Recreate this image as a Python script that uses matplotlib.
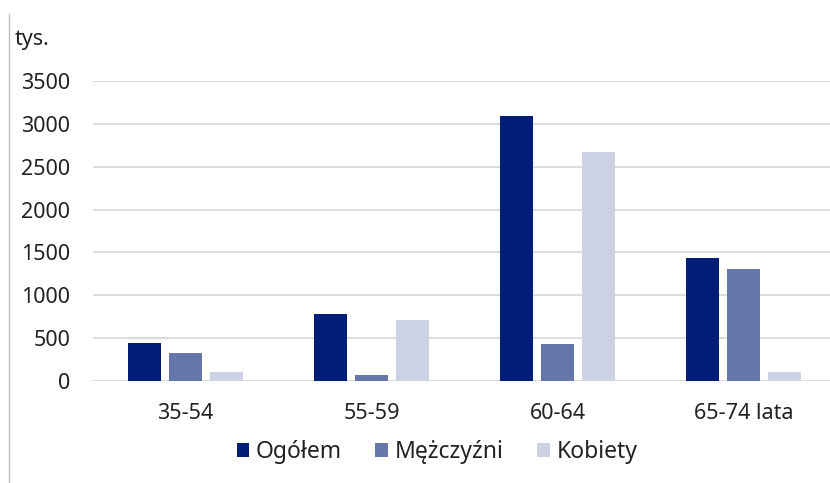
import matplotlib
matplotlib.use("Agg")
import matplotlib.pyplot as plt
from matplotlib.lines import Line2D
import numpy as np

plt.rcParams['font.family'] = ['Noto Sans', 'DejaVu Sans']

categories = ["35-54", "55-59", "60-64", "65-74 lata"]
series_names = ["Ogółem", "Mężczyźni", "Kobiety"]
ogolem = [440, 782, 3092, 1435]
mezczyzni = [323, 70, 428, 1307]
kobiety = [108, 712, 2668, 108]
yticks = [0, 500, 1000, 1500, 2000, 2500, 3000, 3500]
unit_label = "tys."

colors = ["#001E78", "#6676AA", "#CCD2E4"]
text_color = "#222222"

W, H = 830, 483
fig = plt.figure(figsize=(W / 100, H / 100), dpi=100)
ax = fig.add_axes([92.5 / W, 1 - 381 / H, 744 / W, 300 / H])

x = np.arange(len(categories))
bw = 0.174
step = 0.22
for i, (vals, name, c) in enumerate(zip([ogolem, mezczyzni, kobiety], series_names, colors)):
    ax.bar(x + (i - 1) * step, vals, width=bw, color=c, label=name, zorder=3)

ax.set_xlim(-0.5, len(categories) - 0.5)
ax.set_ylim(0, 3500)
ax.set_yticks(yticks)
ax.set_yticklabels([str(v) for v in yticks])
ax.set_xticks(x)
ax.set_xticklabels(categories)
ax.grid(axis='y', color='#D9D9D9', linewidth=1.3, zorder=0)
ax.set_axisbelow(True)
for s in ax.spines.values():
    s.set_visible(False)
ax.tick_params(axis='both', length=0, labelsize=15.5, colors=text_color)
ax.tick_params(axis='y', pad=16)
ax.tick_params(axis='x', pad=16)

fig.text(15 / W, 1 - 39 / H, unit_label, fontsize=15.5, color=text_color, va='center', ha='left')

leg = fig.legend(loc='center', bbox_to_anchor=(437 / W, 1 - 452 / H), ncol=3, frameon=False,
                 fontsize=16.5, handlelength=0.55, handleheight=0.55, handletextpad=0.3,
                 columnspacing=1.45, labelcolor=text_color)

fig.add_artist(Line2D([9 / W, 9 / W], [0, 1 - 14 / H], color='#BFBFBF', linewidth=1.0,
                      transform=fig.transFigure))

fig.savefig("out.png", dpi=100)
